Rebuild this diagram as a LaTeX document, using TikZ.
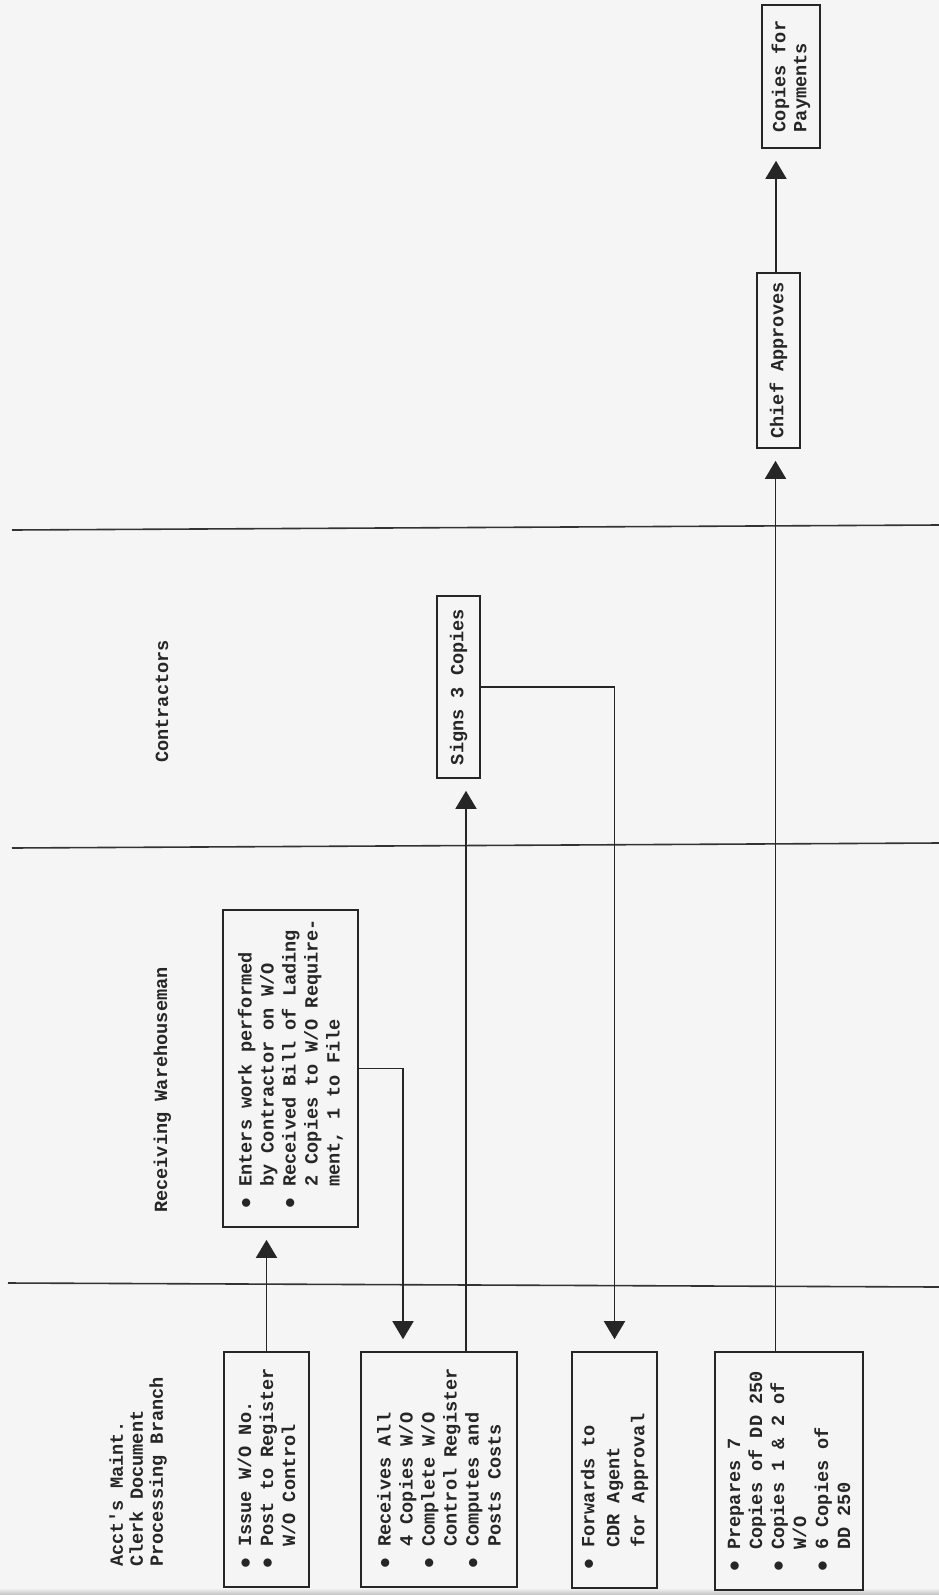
\documentclass[tikz,border=0pt]{standalone}
\usepackage{fontspec}
\usepackage{graphicx}
\usetikzlibrary{arrows.meta}
\newfontfamily\tw{Liberation Mono}
% one typewriter cell of blank space
\newcommand\ts{\hspace{11.16pt}}
% bullet occupying one typewriter cell, followed by a blank cell
\newcommand\bl{\makebox[11.16pt]{\scalebox{1.25}{$\bullet$}}\ts}
% indent of continuation lines (two cells)
\newcommand\ind{\hspace*{22.32pt}}
% one unbreakable typed row
\newcommand\rw[1]{\mbox{#1}}

\begin{document}
\begin{tikzpicture}[x=1pt,y=-1pt,
  ink/.style={draw=black!85, line width=1.6pt},
  tt/.style={font=\tw\bfseries\fontsize{18.6}{#1}\selectfont, text=black!85},
  tt/.default=22,
  box/.style={ink, rectangle, rotate=90, inner xsep=18pt, inner ysep=0pt, align=left, tt},
  sbox/.style={ink, rectangle, rotate=90, inner sep=0pt, align=left, tt},
  tag/.style={rotate=90, inner sep=0pt, align=left},
  lane/.style={draw=black!80, line width=1.6pt},
  flow/.style={ink, -{Triangle[length=18pt,width=21pt]}, shorten >=12pt},
]
\useasboundingbox (0,0) rectangle (939,1595);
\fill[black!4] (0,0) rectangle (939,1595);
\shade[top color=black!4, bottom color=black!25] (0,1588) rectangle (939,1595);

% swim-lane separators
\draw[lane] (12,530) -- (939,525);
\draw[lane] (12,848) -- (939,843);
\draw[lane] (8,1283) -- (939,1287);

% lane titles
\node[tag, tt=20, anchor=west] (lacct) at (138,1567) {Acct's Maint.\\Clerk Document\\Processing Branch};
\node[tag, tt, anchor=base west] (lrecv) at (167,1213) {Receiving Warehouseman};
\node[tag, tt, anchor=base west] (lcont) at (168,763) {Contractors};

% accounting clerk steps
\node[box, text width=199pt, minimum height=85pt] (b1) at (266.5,1469.5)
  {\rw{\bl Issue\ts W/O\ts No.}\\\rw{\bl Post\ts to\ts Register}\\\rw{\ind W/O\ts Control}};
\node[box, text width=199pt, minimum height=156pt] (b2) at (439,1469.5)
  {\rw{\bl Receives\ts All}\\\rw{\ind 4\ts Copies\ts W/O}\\\rw{\bl Complete\ts W/O}\\\rw{\ind Control\ts Register}\\\rw{\bl Computes\ts and}\\\rw{\ind Posts\ts Costs}};
\node[box, tt=25, text width=200pt, minimum height=85pt] (b3) at (614.5,1470)
  {\rw{\bl Forwards\ts to}\\\rw{\ind CDR\ts Agent}\\\rw{\ind for\ts Approval}};
\node[box, text width=202pt, minimum height=148pt] (b4) at (789,1471)
  {\rw{\bl Prepares\ts 7}\\\rw{\ind Copies\ts of\ts DD\ts 250}\\\rw{\bl Copies\ts 1\ts \&\ts 2\ts of}\\\rw{\ind W/O}\\\rw{\bl 6\ts Copies\ts of}\\\rw{\ind DD\ts 250}};

% receiving warehouseman
\node[box, text width=281pt, minimum height=135pt] (wh) at (290.5,1068.5)
  {\rw{\bl Enters\ts work\ts performed}\\\rw{\ind by\ts Contractor\ts on\ts W/O}\\\rw{\bl Received\ts Bill\ts of\ts Lading}\\\rw{\ind 2\ts Copies\ts to\ts W/O\ts Require-}\\\rw{\ind ment,\ts 1\ts to\ts File}};

% contractors
\node[sbox, minimum width=182pt, minimum height=43pt] (signs) at (458.5,687) {Signs 3 Copies};

% approval and payment
\node[sbox, minimum width=175pt, minimum height=43pt] (chief) at (778.5,360.5) {Chief Approves};
\node[sbox, tt=21, minimum width=143pt, minimum height=58pt] (pay) at (791,76.5) {Copies for\\Payments};

% flow
\coordinate (b2up) at ([xshift=27pt]b2.east);
\coordinate (b4up) at ([xshift=-13.5pt]b4.east);
\coordinate (chup) at ([xshift=-2.5pt]chief.east);
\draw[flow] (b1.east) -- (b1.east |- wh.west);
\draw[flow] (wh.south) -| ([xshift=-36pt]b2.east);
\draw[flow] (b2up) -- (b2up |- signs.west);
\draw[flow] (signs.south) -| (b3.east);
\draw[flow] (b4up) -- (b4up |- chief.west);
\draw[flow] (chup) -- (chup |- pay.west);
\end{tikzpicture}
\end{document}
